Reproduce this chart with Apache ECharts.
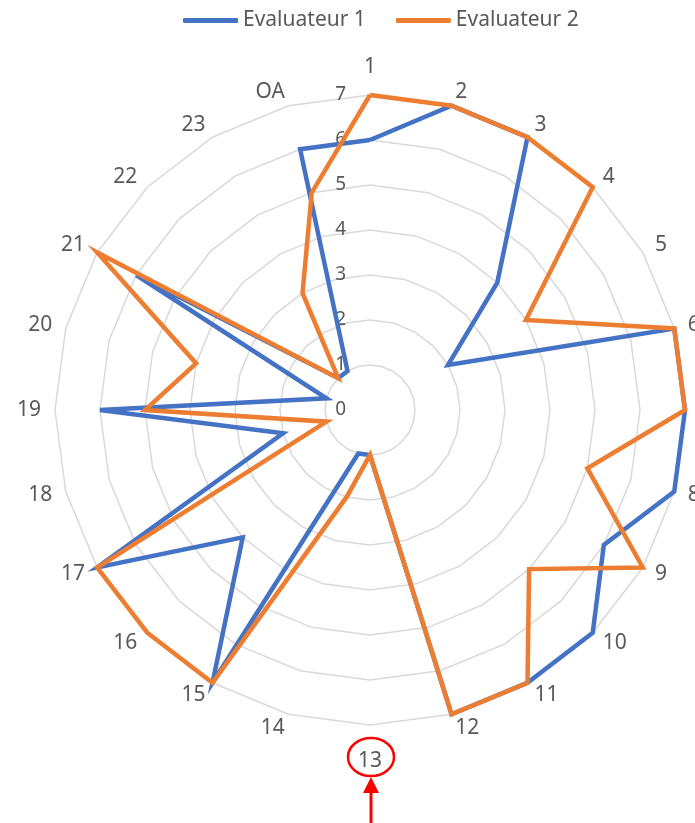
<!DOCTYPE html>
<html>
<head>
<meta charset="utf-8">
<script src="https://cdn.jsdelivr.net/npm/echarts@6/dist/echarts.min.js"></script>
<style>
html,body{margin:0;padding:0;background:#fff;}
#chart{width:695px;height:823px;}
</style>
</head>
<body>
<div id="chart"></div>
<script>
// Categories in clockwise order starting at the top
const categories = ['1','2','3','4','5','6','7','8','9','10','11','12','13','14','15','16','17','18','19','20','21','22','23','OA'];
const evaluateur1 = [6,7,7,4,2,7,7,7,6,7,7,7,1,1,7,4,7,2,6,1,6,1,1,6];
const evaluateur2 = [7,7,7,7,4,7,7,5,7,5,7,7,1,2,7,7,7,1,5,4,7,1,3,5];
const seriesNames = ['Evaluateur 1','Evaluateur 2'];
const axisMax = 7;

const FONT = 'Noto Sans';
// ECharts radar runs counter-clockwise; reorder so the picture reads clockwise
const order = [0];
for (let i = categories.length - 1; i >= 1; i--) order.push(i);

const indicators = order.map((idx, k) => {
  const ind = { name: categories[idx], min: 0, max: axisMax };
  if (k === 0) {
    ind.axisLabel = { show: true, color: '#595959', fontSize: 19, fontFamily: FONT, margin: 24 };
  }
  return ind;
});

const chart = echarts.init(document.getElementById('chart'));
chart.setOption({
  backgroundColor: '#fff',
  animation: false,
  legend: {
    top: 5,
    left: 178,
    itemWidth: 55,
    itemHeight: 5,
    itemGap: 30,
    icon: 'roundRect',
    textStyle: { color: '#595959', fontSize: 21, fontFamily: FONT },
    data: seriesNames
  },
  radar: {
    center: [370, 410],
    radius: 315,
    startAngle: 90,
    shape: 'polygon',
    splitNumber: 7,
    nameGap: 14,
    axisName: {
      color: '#595959', fontSize: 21, fontFamily: FONT,
      formatter: function (name) {
        if (name === '13') return '{b|' + name + '}';
        if (name === '1') return '{t|' + name + '}';
        return name;
      },
      rich: {
        b: { color: '#595959', fontSize: 21, fontFamily: FONT, padding: [12, 0, 0, 0] },
        t: { color: '#595959', fontSize: 21, fontFamily: FONT, padding: [0, 0, 3, 0] }
      }
    },
    axisLine: { show: false },
    axisTick: { show: false },
    axisLabel: { show: false },
    splitArea: { show: false },
    splitLine: { lineStyle: { color: '#D9D9D9', width: 1.5 } },
    indicator: indicators
  },
  graphic: [
    { type: 'ellipse', shape: { cx: 371, cy: 757, rx: 23, ry: 19 }, style: { fill: 'none', stroke: '#FF0000', lineWidth: 2.5 }, z: 100 },
    { type: 'line', shape: { x1: 371, y1: 790, x2: 371, y2: 823 }, style: { stroke: '#FF0000', lineWidth: 3 }, z: 100 },
    { type: 'polygon', shape: { points: [[371, 777], [363, 793], [379, 793]] }, style: { fill: '#FF0000' }, z: 100 }
  ],
  series: [{
    type: 'radar',
    symbol: 'none',
    data: [
      { name: seriesNames[0], value: order.map(i => evaluateur1[i]),
        lineStyle: { color: '#4472C4', width: 4.5, join: 'miter' }, itemStyle: { color: '#4472C4' } },
      { name: seriesNames[1], value: order.map(i => evaluateur2[i]),
        lineStyle: { color: '#ED7D31', width: 4.5, join: 'miter' }, itemStyle: { color: '#ED7D31' } }
    ]
  }]
});
</script>
</body>
</html>
